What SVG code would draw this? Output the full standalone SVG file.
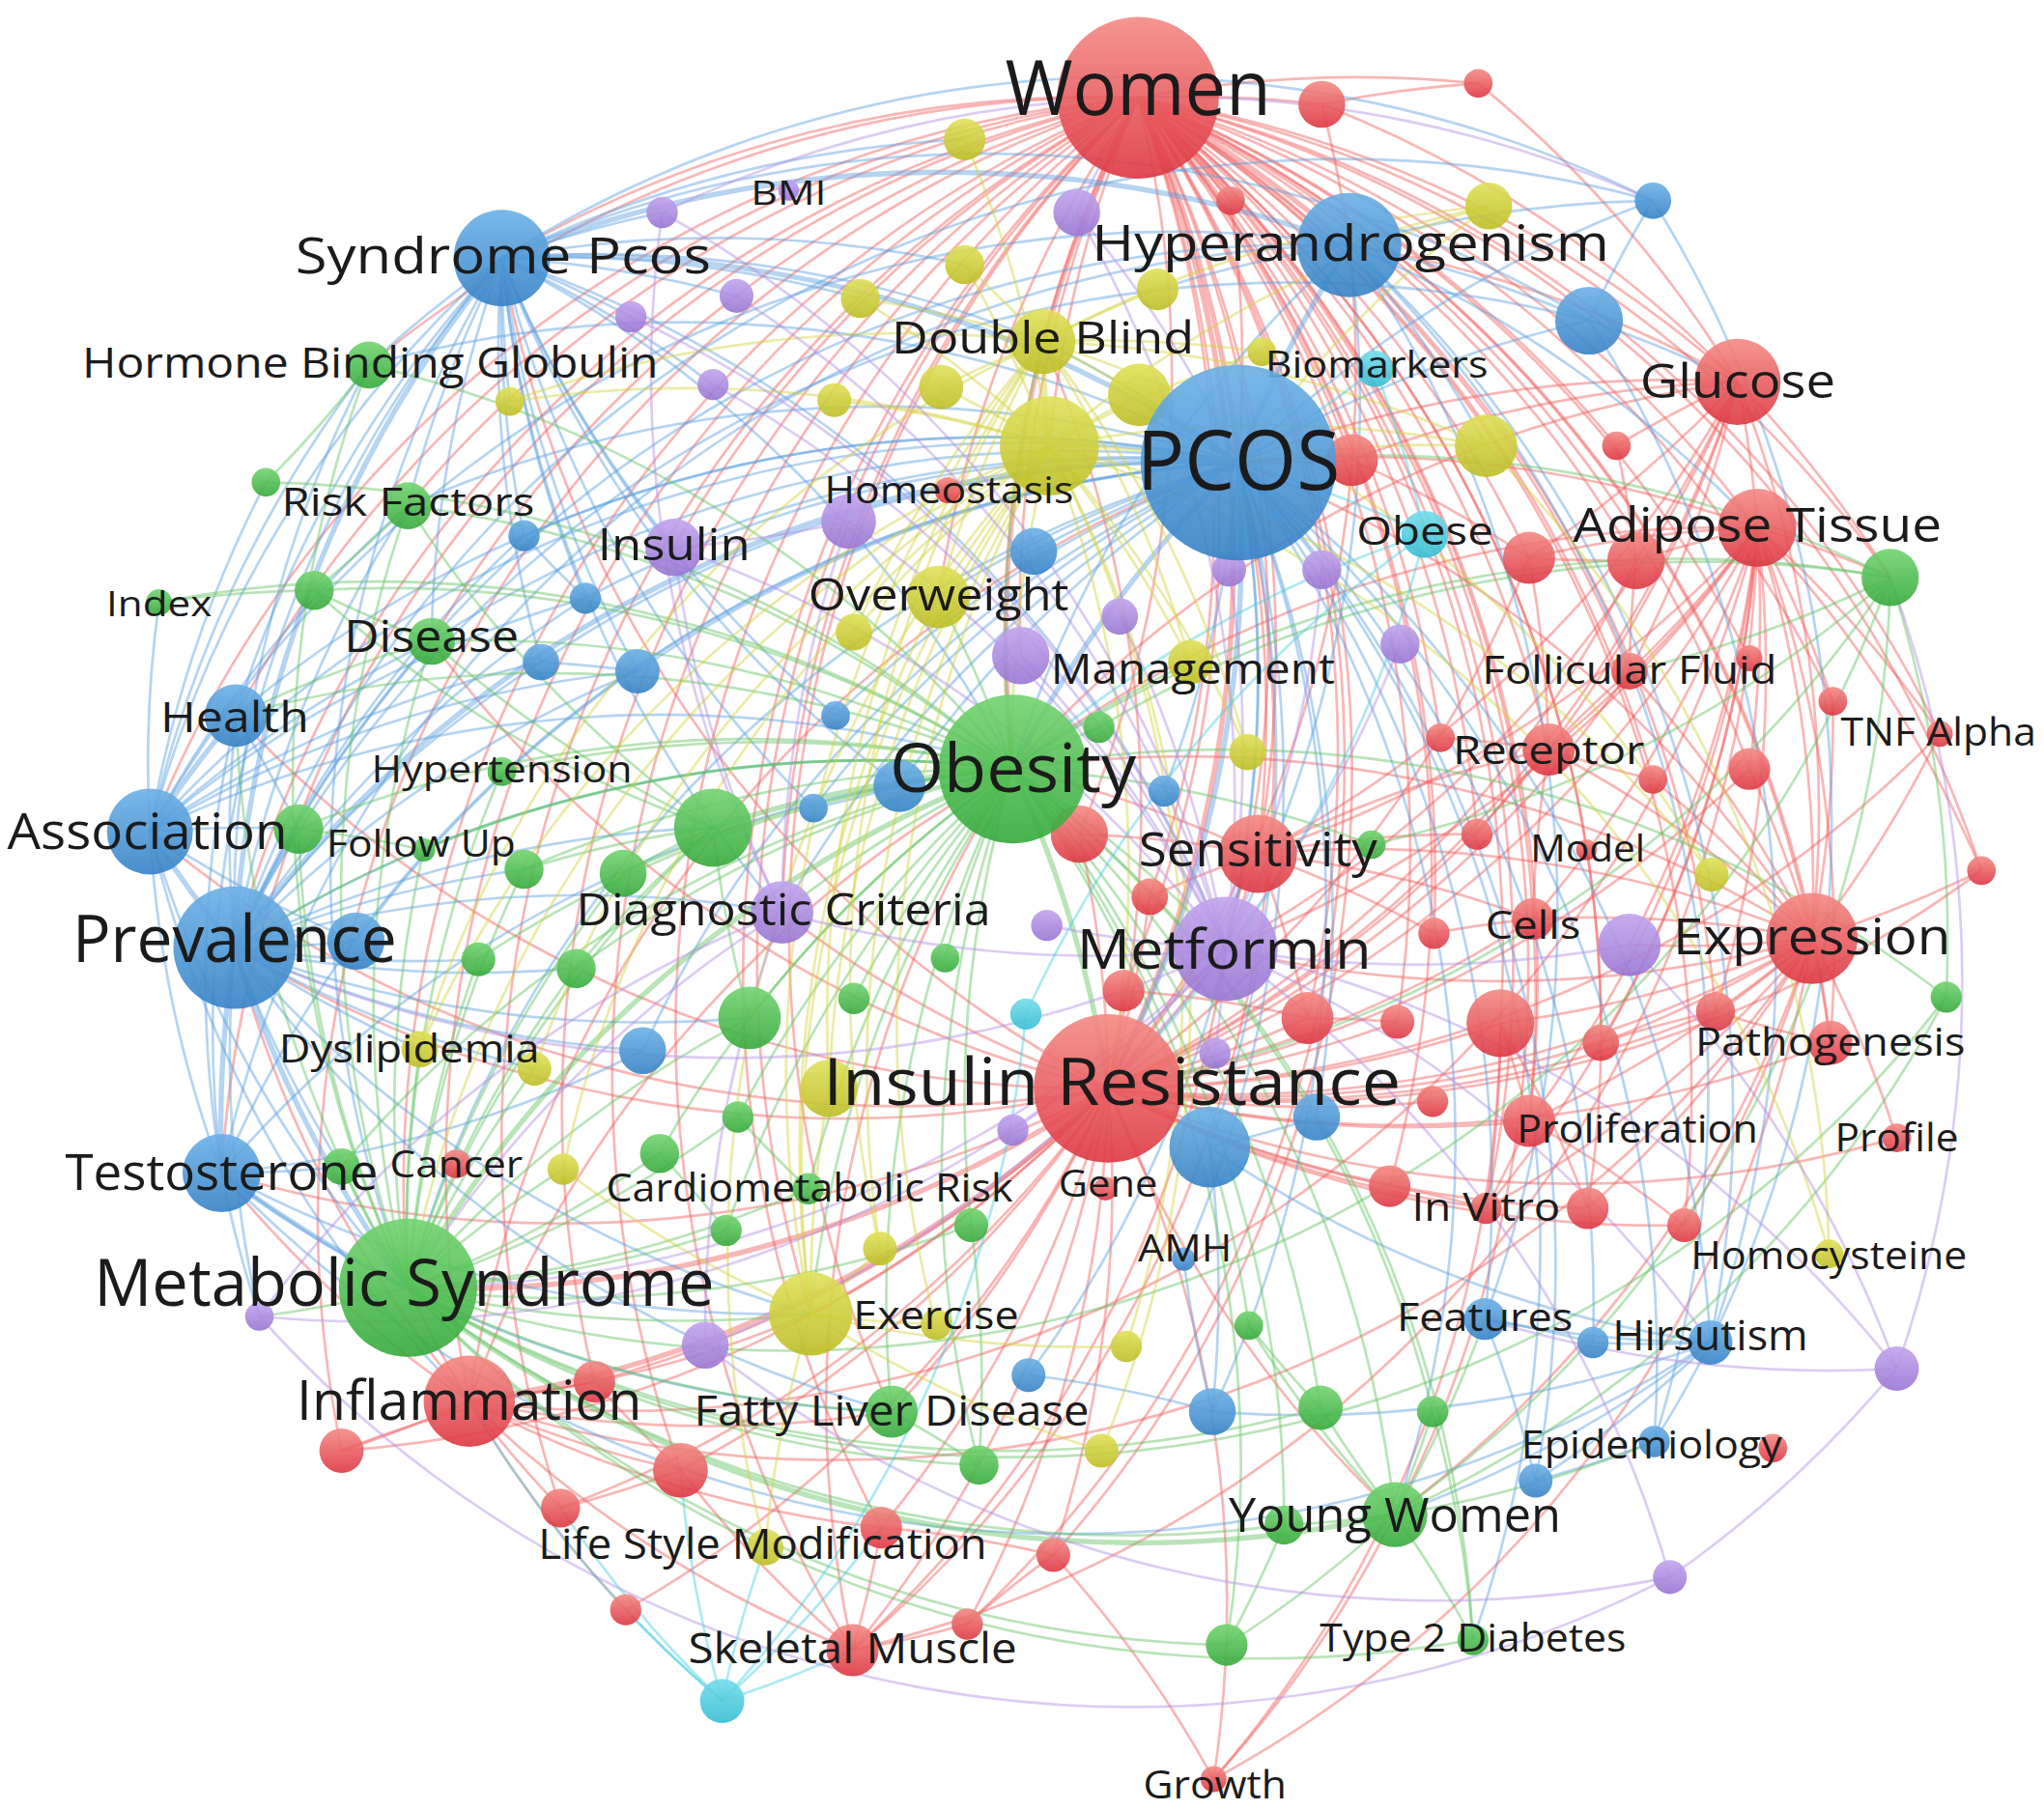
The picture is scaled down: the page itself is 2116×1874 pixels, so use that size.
<svg xmlns="http://www.w3.org/2000/svg" width="2116" height="1874" viewBox="0 0 2116 1874">
<defs>
<linearGradient id="gR" x1="0" y1="0" x2="0" y2="1"><stop offset="0" stop-color="#f48a84"/><stop offset="1" stop-color="#dd3642"/></linearGradient>
<linearGradient id="gB" x1="0" y1="0" x2="0" y2="1"><stop offset="0" stop-color="#6cb0e6"/><stop offset="1" stop-color="#3582c6"/></linearGradient>
<linearGradient id="gG" x1="0" y1="0" x2="0" y2="1"><stop offset="0" stop-color="#72d470"/><stop offset="1" stop-color="#35a93a"/></linearGradient>
<linearGradient id="gY" x1="0" y1="0" x2="0" y2="1"><stop offset="0" stop-color="#e0e05a"/><stop offset="1" stop-color="#bdbd24"/></linearGradient>
<linearGradient id="gP" x1="0" y1="0" x2="0" y2="1"><stop offset="0" stop-color="#c2a4ee"/><stop offset="1" stop-color="#9875d2"/></linearGradient>
<linearGradient id="gC" x1="0" y1="0" x2="0" y2="1"><stop offset="0" stop-color="#74dcea"/><stop offset="1" stop-color="#35bdd2"/></linearGradient>
</defs>
<style>
path{fill:none;stroke-opacity:.45;stroke-width:2}
.r{stroke:#f25e5e}.b{stroke:#5b9fdf}.g{stroke:#62c462}.y{stroke:#d3d33e}.p{stroke:#b28ee4}.c{stroke:#4ccfe0}
.t{stroke-width:4}
circle{fill-opacity:.9}
.nr{fill:url(#gR)}.nb{fill:url(#gB)}.ng{fill:url(#gG)}.ny{fill:url(#gY)}.np{fill:url(#gP)}.nc{fill:url(#gC)}
text{font-family:"Open Sans","Noto Sans","DejaVu Sans",sans-serif;fill:#1b1b1b;text-anchor:middle}
</style>
<rect width="2116" height="1874" fill="#ffffff"/>
<g transform="scale(1.3495)">
<g id="connectors">
<path class="r t" d="M873 75A900 900 0 0 1 950 355"/>
<path class="r t" d="M873 75A900 900 0 0 1 850 835"/>
<path class="r" d="M873 75A900 900 0 0 1 1333 293"/>
<path class="r" d="M873 75A900 900 0 0 1 1348 405"/>
<path class="r" d="M873 75A900 900 0 0 1 1390 720"/>
<path class="r t" d="M873 75A900 900 0 0 1 1035 188"/>
<path class="r" d="M873 75A900 900 0 0 1 940 728"/>
<path class="r" d="M873 75A900 900 0 0 1 965 655"/>
<path class="r" d="M873 75A900 900 0 0 1 1188 575"/>
<path class="r" d="M873 75A900 900 0 0 1 1250 515"/>
<path class="r" d="M873 75A900 900 0 0 1 1176 705"/>
<path class="r" d="M873 75A900 900 0 0 1 1151 785"/>
<path class="r" d="M873 75A900 900 0 0 1 1173 428"/>
<path class="r" d="M873 75A900 900 0 0 1 1255 430"/>
<path class="r" d="M873 75A900 900 0 0 1 1014 80"/>
<path class="r" d="M873 75A900 900 0 0 1 1134 64"/>
<path class="r" d="M873 75A900 900 0 0 1 1070 1162"/>
<path class="r" d="M873 75A900 900 0 0 1 1488 563"/>
<path class="r" d="M873 75A900 900 0 0 1 1404 800"/>
<path class="r" d="M873 75A900 900 0 0 1 1173 860"/>
<path class="r" d="M873 75A900 900 0 0 1 1140 927"/>
<path class="r" d="M873 75A900 900 0 0 1 1003 781"/>
<path class="r" d="M873 75A900 900 0 0 1 1037 353"/>
<path class="r" d="M873 75A900 900 0 0 1 1240 342"/>
<path class="r" d="M873 75A900 900 0 0 1 1342 590"/>
<path class="r" d="M873 75A900 900 0 0 1 1450 443"/>
<path class="r" d="M873 75A900 900 0 0 1 1520 668"/>
<path class="r" d="M873 75A900 900 0 0 1 1218 927"/>
<path class="r" d="M873 75A900 900 0 0 1 1292 940"/>
<path class="r" d="M873 75A900 900 0 0 1 862 760"/>
<path class="r" d="M873 75A900 900 0 0 1 828 640"/>
<path class="r" d="M873 75A900 900 0 0 1 882 688"/>
<path class="r" d="M873 75A900 900 0 0 1 1316 776"/>
<path class="r" d="M873 75A900 900 0 0 1 1228 800"/>
<path class="r" d="M873 75A900 900 0 0 1 1066 910"/>
<path class="r" d="M873 75A900 900 0 0 1 808 1193"/>
<path class="r" d="M873 75A900 900 0 0 1 742 1246"/>
<path class="r" d="M873 75A900 900 0 0 1 944 154"/>
<path class="r" d="M873 75A900 900 0 0 1 1105 566"/>
<path class="r" d="M873 75A900 900 0 0 1 1133 640"/>
<path class="r" d="M873 75A900 900 0 0 1 1268 598"/>
<path class="r" d="M873 75A900 900 0 0 1 1406 538"/>
<path class="r" d="M873 75A900 900 0 0 1 1342 505"/>
<path class="r" d="M873 75A900 900 0 0 1 1100 716"/>
<path class="r" d="M873 75A900 900 0 0 1 1072 784"/>
<path class="r t" d="M777 590A900 900 0 0 1 873 75"/>
<path class="r" d="M360 1075A900 900 0 0 1 873 75"/>
<path class="r" d="M313 988A900 900 0 0 1 873 75"/>
<path class="r" d="M180 727A900 900 0 0 1 873 75"/>
<path class="r" d="M385 198A900 900 0 0 1 873 75"/>
<path class="r" d="M654 1266A900 900 0 0 1 873 75"/>
<path class="r" d="M522 1128A900 900 0 0 1 873 75"/>
<path class="r" d="M622 1008A900 900 0 0 1 873 75"/>
<path class="r" d="M115 638A900 900 0 0 1 873 75"/>
<path class="r" d="M170 900A900 900 0 0 1 873 75"/>
<path class="r" d="M684 1083A900 900 0 0 1 873 75"/>
<path class="r" d="M181 549A900 900 0 0 1 873 75"/>
<path class="r" d="M331 492A900 900 0 0 1 873 75"/>
<path class="r" d="M313 388A900 900 0 0 1 873 75"/>
<path class="r" d="M800 262A900 900 0 0 1 873 75"/>
<path class="r" d="M805 342A900 900 0 0 1 873 75"/>
<path class="r" d="M720 458A900 900 0 0 1 873 75"/>
<path class="r" d="M783 503A900 900 0 0 1 873 75"/>
<path class="r" d="M600 700A900 900 0 0 1 873 75"/>
<path class="r" d="M517 420A900 900 0 0 1 873 75"/>
<path class="r" d="M283 280A900 900 0 0 1 873 75"/>
<path class="r" d="M456 1060A900 900 0 0 1 873 75"/>
<path class="r" d="M430 1157A900 900 0 0 1 873 75"/>
<path class="r" d="M262 1113A900 900 0 0 1 873 75"/>
<path class="r" d="M676 1172A900 900 0 0 1 873 75"/>
<path class="b t" d="M950 355A900 900 0 0 1 850 835"/>
<path class="g t" d="M777 590A900 900 0 0 1 850 835"/>
<path class="r" d="M1333 293A900 900 0 0 1 850 835"/>
<path class="r" d="M1348 405A900 900 0 0 1 850 835"/>
<path class="r" d="M1390 720A900 900 0 0 1 850 835"/>
<path class="r" d="M940 728A900 900 0 0 1 850 835"/>
<path class="r" d="M965 655A900 900 0 0 1 850 835"/>
<path class="r" d="M1176 705A900 900 0 0 1 850 835"/>
<path class="r" d="M1151 785A900 900 0 0 1 850 835"/>
<path class="r" d="M1173 860A900 900 0 0 1 850 835"/>
<path class="r" d="M1140 927A900 900 0 0 1 850 835"/>
<path class="r" d="M1188 575A900 900 0 0 1 850 835"/>
<path class="r" d="M1250 515A900 900 0 0 1 850 835"/>
<path class="r" d="M1070 1162A900 900 0 0 1 850 835"/>
<path class="r" d="M1003 781A900 900 0 0 1 850 835"/>
<path class="r" d="M1072 784A900 900 0 0 1 850 835"/>
<path class="r" d="M1228 800A900 900 0 0 1 850 835"/>
<path class="r" d="M1404 800A900 900 0 0 1 850 835"/>
<path class="r" d="M1455 873A900 900 0 0 1 850 835"/>
<path class="r" d="M1218 927A900 900 0 0 1 850 835"/>
<path class="r" d="M1292 940A900 900 0 0 1 850 835"/>
<path class="r" d="M1066 910A900 900 0 0 1 850 835"/>
<path class="r" d="M1099 845A900 900 0 0 1 850 835"/>
<path class="r" d="M1520 668A900 900 0 0 1 850 835"/>
<path class="r" d="M1488 563A900 900 0 0 1 850 835"/>
<path class="r" d="M1342 590A900 900 0 0 1 850 835"/>
<path class="r" d="M1316 776A900 900 0 0 1 850 835"/>
<path class="r" d="M800 262A900 900 0 0 1 850 835"/>
<path class="r" d="M1035 188A900 900 0 0 1 850 835"/>
<path class="r" d="M1255 430A900 900 0 0 1 850 835"/>
<path class="r" d="M1173 428A900 900 0 0 1 850 835"/>
<path class="r" d="M862 760A900 900 0 0 1 850 835"/>
<path class="r" d="M882 688A900 900 0 0 1 850 835"/>
<path class="r" d="M828 640A900 900 0 0 1 850 835"/>
<path class="r t" d="M850 835A900 900 0 0 1 313 988"/>
<path class="r" d="M850 835A900 900 0 0 1 180 727"/>
<path class="r t" d="M850 835A900 900 0 0 1 360 1075"/>
<path class="r" d="M850 835A900 900 0 0 1 654 1266"/>
<path class="r" d="M850 835A900 900 0 0 1 622 1008"/>
<path class="r" d="M850 835A900 900 0 0 1 684 1083"/>
<path class="r" d="M850 835A900 900 0 0 1 522 1128"/>
<path class="r" d="M850 835A900 900 0 0 1 430 1157"/>
<path class="r" d="M850 835A900 900 0 0 1 480 1235"/>
<path class="r" d="M850 835A900 900 0 0 1 742 1246"/>
<path class="r" d="M850 835A900 900 0 0 1 808 1193"/>
<path class="r" d="M850 835A900 900 0 0 1 676 1172"/>
<path class="r" d="M850 835A900 900 0 0 1 931 1365"/>
<path class="r" d="M850 835A900 900 0 0 1 170 900"/>
<path class="r" d="M850 835A900 900 0 0 1 115 638"/>
<path class="r" d="M850 835A900 900 0 0 1 181 549"/>
<path class="r" d="M850 835A900 900 0 0 1 331 492"/>
<path class="r" d="M850 835A900 900 0 0 1 600 700"/>
<path class="r" d="M850 835A900 900 0 0 1 385 198"/>
<path class="r" d="M850 835A900 900 0 0 1 456 1060"/>
<path class="r" d="M850 835A900 900 0 0 1 262 1113"/>
<path class="r" d="M360 1075A900 900 0 0 1 262 1113"/>
<path class="r" d="M360 1075A900 900 0 0 1 313 988"/>
<path class="r" d="M360 1075A900 900 0 0 1 777 590"/>
<path class="r" d="M360 1075A900 900 0 0 1 950 355"/>
<path class="r" d="M360 1075A900 900 0 0 1 180 727"/>
<path class="r" d="M360 1075A900 900 0 0 1 170 900"/>
<path class="r" d="M430 1157A900 900 0 0 1 360 1075"/>
<path class="r" d="M480 1235A900 900 0 0 1 360 1075"/>
<path class="r" d="M654 1266A900 900 0 0 1 360 1075"/>
<path class="r" d="M522 1128A900 900 0 0 1 360 1075"/>
<path class="r" d="M622 1008A900 900 0 0 1 360 1075"/>
<path class="r" d="M1348 405A900 900 0 0 1 360 1075"/>
<path class="r" d="M1390 720A900 900 0 0 1 360 1075"/>
<path class="r" d="M676 1172A900 900 0 0 1 360 1075"/>
<path class="r" d="M456 1060A900 900 0 0 1 360 1075"/>
<path class="r" d="M684 1083A900 900 0 0 1 360 1075"/>
<path class="r" d="M950 355A900 900 0 0 1 1333 293"/>
<path class="r" d="M1035 188A900 900 0 0 1 1333 293"/>
<path class="r" d="M1240 342A900 900 0 0 1 1333 293"/>
<path class="r" d="M1037 353A900 900 0 0 1 1333 293"/>
<path class="r" d="M1134 64A900 900 0 0 1 1333 293"/>
<path class="r" d="M1014 80A900 900 0 0 1 1333 293"/>
<path class="r" d="M777 590A900 900 0 0 1 1333 293"/>
<path class="r" d="M1333 293A900 900 0 0 1 1348 405"/>
<path class="r" d="M1333 293A900 900 0 0 1 1255 430"/>
<path class="r" d="M1333 293A900 900 0 0 1 1250 515"/>
<path class="r" d="M1333 293A900 900 0 0 1 1188 575"/>
<path class="r" d="M1333 293A900 900 0 0 1 1390 720"/>
<path class="r" d="M1333 293A900 900 0 0 1 1450 443"/>
<path class="r" d="M1333 293A900 900 0 0 1 1173 428"/>
<path class="r" d="M1333 293A900 900 0 0 1 965 655"/>
<path class="r" d="M1333 293A900 900 0 0 1 940 728"/>
<path class="r" d="M1348 405A900 900 0 0 1 1390 720"/>
<path class="r" d="M1348 405A900 900 0 0 1 1450 443"/>
<path class="r" d="M1348 405A900 900 0 0 1 1250 515"/>
<path class="r" d="M1348 405A900 900 0 0 1 1188 575"/>
<path class="r" d="M1348 405A900 900 0 0 1 1342 590"/>
<path class="r" d="M1348 405A900 900 0 0 1 1406 538"/>
<path class="r" d="M1348 405A900 900 0 0 1 1488 563"/>
<path class="r" d="M1348 405A900 900 0 0 1 1404 800"/>
<path class="r" d="M1348 405A900 900 0 0 1 1140 927"/>
<path class="r" d="M1348 405A900 900 0 0 1 1173 860"/>
<path class="r" d="M1348 405A900 900 0 0 1 1176 705"/>
<path class="r" d="M1348 405A900 900 0 0 1 1250 725"/>
<path class="r" d="M1348 405A900 900 0 0 1 1520 668"/>
<path class="r" d="M1348 405A900 900 0 0 1 1316 776"/>
<path class="r" d="M1348 405A900 900 0 0 1 1228 800"/>
<path class="r" d="M1348 405A900 900 0 0 1 965 655"/>
<path class="r" d="M1348 405A900 900 0 0 1 940 728"/>
<path class="r" d="M1348 405A900 900 0 0 1 654 1266"/>
<path class="r" d="M1173 428A900 900 0 0 1 1348 405"/>
<path class="r" d="M1255 430A900 900 0 0 1 1348 405"/>
<path class="r" d="M950 355A900 900 0 0 1 1348 405"/>
<path class="r" d="M777 590A900 900 0 0 1 1348 405"/>
<path class="r" d="M1390 720A900 900 0 0 1 1404 800"/>
<path class="r" d="M1390 720A900 900 0 0 1 1173 860"/>
<path class="r" d="M1390 720A900 900 0 0 1 1140 927"/>
<path class="r" d="M1390 720A900 900 0 0 1 1316 776"/>
<path class="r" d="M1390 720A900 900 0 0 1 1228 800"/>
<path class="r" d="M1390 720A900 900 0 0 1 1151 785"/>
<path class="r" d="M1390 720A900 900 0 0 1 1292 940"/>
<path class="r" d="M1390 720A900 900 0 0 1 1218 927"/>
<path class="r" d="M1390 720A900 900 0 0 1 1455 873"/>
<path class="r" d="M1390 720A900 900 0 0 1 940 728"/>
<path class="r" d="M1390 720A900 900 0 0 1 931 1365"/>
<path class="r" d="M1390 720A900 900 0 0 1 1070 1162"/>
<path class="r" d="M1390 720A900 900 0 0 1 1250 725"/>
<path class="r" d="M1176 705A900 900 0 0 1 1390 720"/>
<path class="r" d="M1188 575A900 900 0 0 1 1390 720"/>
<path class="r" d="M1250 515A900 900 0 0 1 1390 720"/>
<path class="r" d="M1520 668A900 900 0 0 1 1390 720"/>
<path class="r" d="M1342 590A900 900 0 0 1 1390 720"/>
<path class="r" d="M1268 598A900 900 0 0 1 1390 720"/>
<path class="r" d="M1488 563A900 900 0 0 1 1390 720"/>
<path class="r" d="M1406 538A900 900 0 0 1 1390 720"/>
<path class="r" d="M965 655A900 900 0 0 1 1390 720"/>
<path class="r" d="M777 590A900 900 0 0 1 1390 720"/>
<path class="r" d="M950 355A900 900 0 0 1 1390 720"/>
<path class="r" d="M654 1266A900 900 0 0 1 777 590"/>
<path class="r" d="M950 355A900 900 0 0 1 654 1266"/>
<path class="r" d="M940 728A900 900 0 0 1 654 1266"/>
<path class="r" d="M742 1246A900 900 0 0 1 654 1266"/>
<path class="r" d="M676 1172A900 900 0 0 1 654 1266"/>
<path class="r" d="M654 1266A900 900 0 0 1 522 1128"/>
<path class="r" d="M1151 785A900 900 0 0 1 931 1365"/>
<path class="r" d="M1070 1162A900 900 0 0 1 931 1365"/>
<path class="r" d="M808 1193A900 900 0 0 1 931 1365"/>
<path class="r" d="M1176 705A900 900 0 0 1 1188 575"/>
<path class="r" d="M1176 705A900 900 0 0 1 1173 860"/>
<path class="r" d="M1188 575A900 900 0 0 1 1250 515"/>
<path class="r" d="M1250 515A900 900 0 0 1 1255 430"/>
<path class="r" d="M1173 428A900 900 0 0 1 1188 575"/>
<path class="r" d="M1151 785A900 900 0 0 1 1140 927"/>
<path class="r" d="M1151 785A900 900 0 0 1 1173 860"/>
<path class="r" d="M1228 800A900 900 0 0 1 1316 776"/>
<path class="r" d="M1404 800A900 900 0 0 1 1316 776"/>
<path class="r" d="M1173 860A900 900 0 0 1 1140 927"/>
<path class="r" d="M1003 781A900 900 0 0 1 1072 784"/>
<path class="r" d="M1100 716A900 900 0 0 1 1176 705"/>
<path class="r" d="M1133 640A900 900 0 0 1 1188 575"/>
<path class="r" d="M1105 566A900 900 0 0 1 1188 575"/>
<path class="r" d="M1268 598A900 900 0 0 1 1188 575"/>
<path class="r" d="M965 655A900 900 0 0 1 1003 781"/>
<path class="r" d="M965 655A900 900 0 0 1 1133 640"/>
<path class="r" d="M965 655A900 900 0 0 1 1100 716"/>
<path class="r" d="M965 655A900 900 0 0 1 1176 705"/>
<path class="r" d="M965 655A900 900 0 0 1 1188 575"/>
<path class="r" d="M965 655A900 900 0 0 1 940 728"/>
<path class="r" d="M950 355A900 900 0 0 1 965 655"/>
<path class="r" d="M777 590A900 900 0 0 1 965 655"/>
<path class="r" d="M1255 430A900 900 0 0 1 1173 428"/>
<path class="r" d="M1037 353A900 900 0 0 1 1173 428"/>
<path class="r" d="M1240 342A900 900 0 0 1 1255 430"/>
<path class="r" d="M1151 785A900 900 0 0 1 1218 927"/>
<path class="r" d="M1173 860A900 900 0 0 1 1292 940"/>
<path class="r" d="M1066 910A900 900 0 0 1 1140 927"/>
<path class="r" d="M862 760A900 900 0 0 1 1003 781"/>
<path class="r" d="M828 640A900 900 0 0 1 965 655"/>
<path class="r" d="M882 688A900 900 0 0 1 965 655"/>
<path class="r" d="M522 1128A900 900 0 0 1 456 1060"/>
<path class="r" d="M522 1128A900 900 0 0 1 430 1157"/>
<path class="r" d="M262 1113A900 900 0 0 1 456 1060"/>
<path class="r" d="M676 1172A900 900 0 0 1 808 1193"/>
<path class="r" d="M742 1246A900 900 0 0 1 808 1193"/>
<path class="r" d="M1014 80A900 900 0 0 1 1134 64"/>
<path class="r" d="M1014 80A900 900 0 0 1 1035 188"/>
<path class="r" d="M944 154A900 900 0 0 1 950 355"/>
<path class="r" d="M1037 353A900 900 0 0 1 950 355"/>
<path class="b t" d="M385 198A900 900 0 0 1 950 355"/>
<path class="b t" d="M180 727A900 900 0 0 1 950 355"/>
<path class="b" d="M115 638A900 900 0 0 1 950 355"/>
<path class="b" d="M170 900A900 900 0 0 1 950 355"/>
<path class="b" d="M181 549A900 900 0 0 1 950 355"/>
<path class="b" d="M493 806A900 900 0 0 1 950 355"/>
<path class="b" d="M489 515A900 900 0 0 1 950 355"/>
<path class="b" d="M415 508A900 900 0 0 1 950 355"/>
<path class="b" d="M449 459A900 900 0 0 1 950 355"/>
<path class="b" d="M402 411A900 900 0 0 1 950 355"/>
<path class="b" d="M690 603A900 900 0 0 1 950 355"/>
<path class="b" d="M624 620A900 900 0 0 1 950 355"/>
<path class="b" d="M641 549A900 900 0 0 1 950 355"/>
<path class="b" d="M793 423A900 900 0 0 1 950 355"/>
<path class="b" d="M273 722A900 900 0 0 1 950 355"/>
<path class="b" d="M313 988A900 900 0 0 1 950 355"/>
<path class="b t" d="M777 590A900 900 0 0 1 950 355"/>
<path class="b" d="M600 700A900 900 0 0 1 950 355"/>
<path class="b" d="M800 262A900 900 0 0 1 950 355"/>
<path class="b" d="M720 458A900 900 0 0 1 950 355"/>
<path class="b" d="M517 420A900 900 0 0 1 950 355"/>
<path class="b" d="M331 492A900 900 0 0 1 950 355"/>
<path class="b" d="M313 388A900 900 0 0 1 950 355"/>
<path class="b" d="M283 280A900 900 0 0 1 950 355"/>
<path class="b t" d="M950 355A900 900 0 0 1 1035 188"/>
<path class="b" d="M950 355A900 900 0 0 1 1219 246"/>
<path class="b" d="M950 355A900 900 0 0 1 1268 154"/>
<path class="b" d="M950 355A900 900 0 0 1 1312 1030"/>
<path class="b" d="M950 355A900 900 0 0 1 1139 1012"/>
<path class="b" d="M950 355A900 900 0 0 1 1269 1106"/>
<path class="b" d="M950 355A900 900 0 0 1 1178 1136"/>
<path class="b" d="M950 355A900 900 0 0 1 928 880"/>
<path class="b" d="M950 355A900 900 0 0 1 1010 857"/>
<path class="b" d="M950 355A900 900 0 0 1 930 1083"/>
<path class="b" d="M950 355A900 900 0 0 1 789 1055"/>
<path class="b" d="M950 355A900 900 0 0 1 893 607"/>
<path class="b" d="M950 355A900 900 0 0 1 1070 1162"/>
<path class="b" d="M950 355A900 900 0 0 1 1130 1258"/>
<path class="b" d="M950 355A900 900 0 0 1 940 728"/>
<path class="b" d="M950 355A900 900 0 0 1 1222 1030"/>
<path class="b" d="M950 355A900 900 0 0 1 908 966"/>
<path class="y" d="M950 355A900 900 0 0 1 1142 158"/>
<path class="y" d="M950 355A900 900 0 0 1 1140 342"/>
<path class="b t" d="M180 727A900 900 0 0 1 115 638"/>
<path class="b" d="M180 727A900 900 0 0 1 181 549"/>
<path class="b t" d="M180 727A900 900 0 0 1 385 198"/>
<path class="b" d="M180 727A900 900 0 0 1 777 590"/>
<path class="b" d="M180 727A900 900 0 0 1 331 492"/>
<path class="b" d="M180 727A900 900 0 0 1 313 388"/>
<path class="b" d="M180 727A900 900 0 0 1 283 280"/>
<path class="b" d="M180 727A900 900 0 0 1 600 700"/>
<path class="b" d="M180 727A900 900 0 0 1 402 667"/>
<path class="b" d="M180 727A900 900 0 0 1 415 508"/>
<path class="b" d="M180 727A900 900 0 0 1 489 515"/>
<path class="b" d="M180 727A900 900 0 0 1 449 459"/>
<path class="b" d="M180 727A900 900 0 0 1 402 411"/>
<path class="b" d="M180 727A900 900 0 0 1 229 636"/>
<path class="b" d="M180 727A900 900 0 0 1 547 635"/>
<path class="b" d="M180 727A900 900 0 0 1 1035 188"/>
<path class="b" d="M180 727A900 900 0 0 1 1219 246"/>
<path class="b" d="M180 727A900 900 0 0 1 1268 154"/>
<path class="b t" d="M170 900A900 900 0 0 1 180 727"/>
<path class="b" d="M273 722A900 900 0 0 1 180 727"/>
<path class="b t" d="M313 988A900 900 0 0 1 180 727"/>
<path class="b" d="M367 736A900 900 0 0 1 180 727"/>
<path class="b" d="M442 743A900 900 0 0 1 180 727"/>
<path class="b" d="M493 806A900 900 0 0 1 180 727"/>
<path class="b" d="M262 895A900 900 0 0 1 180 727"/>
<path class="b" d="M622 1008A900 900 0 0 1 180 727"/>
<path class="b" d="M575 781A900 900 0 0 1 180 727"/>
<path class="b" d="M684 1083A900 900 0 0 1 180 727"/>
<path class="b" d="M199 1010A900 900 0 0 1 180 727"/>
<path class="b" d="M322 805A900 900 0 0 1 180 727"/>
<path class="b" d="M410 820A900 900 0 0 1 180 727"/>
<path class="b t" d="M385 198A900 900 0 0 1 1035 188"/>
<path class="b" d="M385 198A900 900 0 0 1 508 163"/>
<path class="b" d="M385 198A900 900 0 0 1 484 243"/>
<path class="b" d="M385 198A900 900 0 0 1 565 227"/>
<path class="b" d="M385 198A900 900 0 0 1 547 295"/>
<path class="b" d="M385 198A900 900 0 0 1 800 262"/>
<path class="b" d="M385 198A900 900 0 0 1 1268 154"/>
<path class="b" d="M385 198A900 900 0 0 1 1219 246"/>
<path class="b" d="M385 198A900 900 0 0 1 777 590"/>
<path class="b" d="M385 198A900 900 0 0 1 660 229"/>
<path class="b" d="M385 198A900 900 0 0 1 740 203"/>
<path class="b" d="M385 198A900 900 0 0 1 740 107"/>
<path class="b" d="M385 198A900 900 0 0 1 940 728"/>
<path class="b" d="M115 638A900 900 0 0 1 385 198"/>
<path class="b" d="M181 549A900 900 0 0 1 385 198"/>
<path class="b" d="M170 900A900 900 0 0 1 385 198"/>
<path class="b" d="M517 420A900 900 0 0 1 385 198"/>
<path class="b" d="M391 308A900 900 0 0 1 385 198"/>
<path class="b" d="M283 280A900 900 0 0 1 385 198"/>
<path class="b" d="M313 388A900 900 0 0 1 385 198"/>
<path class="b" d="M331 492A900 900 0 0 1 385 198"/>
<path class="b" d="M402 411A900 900 0 0 1 385 198"/>
<path class="b" d="M449 459A900 900 0 0 1 385 198"/>
<path class="b" d="M415 508A900 900 0 0 1 385 198"/>
<path class="b" d="M489 515A900 900 0 0 1 385 198"/>
<path class="b" d="M313 988A900 900 0 0 1 385 198"/>
<path class="b" d="M641 549A900 900 0 0 1 385 198"/>
<path class="b" d="M690 603A900 900 0 0 1 385 198"/>
<path class="b" d="M624 620A900 900 0 0 1 385 198"/>
<path class="b" d="M600 700A900 900 0 0 1 385 198"/>
<path class="b" d="M1035 188A900 900 0 0 1 1219 246"/>
<path class="b" d="M1035 188A900 900 0 0 1 1268 154"/>
<path class="b" d="M1035 188A900 900 0 0 1 1312 1030"/>
<path class="y" d="M1035 188A900 900 0 0 1 1142 158"/>
<path class="b" d="M1035 188A900 900 0 0 1 1140 342"/>
<path class="b" d="M1035 188A900 900 0 0 1 1348 405"/>
<path class="b" d="M1035 188A900 900 0 0 1 1139 1012"/>
<path class="b" d="M1035 188A900 900 0 0 1 1269 1106"/>
<path class="b" d="M1035 188A900 900 0 0 1 940 728"/>
<path class="b" d="M777 590A900 900 0 0 1 1035 188"/>
<path class="b" d="M888 222A900 900 0 0 1 1035 188"/>
<path class="b" d="M170 900A900 900 0 0 1 1035 188"/>
<path class="b" d="M115 638A900 900 0 0 1 1035 188"/>
<path class="b t" d="M115 638A900 900 0 0 1 181 549"/>
<path class="b" d="M115 638A900 900 0 0 1 331 492"/>
<path class="b" d="M115 638A900 900 0 0 1 313 388"/>
<path class="b" d="M115 638A900 900 0 0 1 229 636"/>
<path class="b" d="M115 638A900 900 0 0 1 415 508"/>
<path class="b" d="M115 638A900 900 0 0 1 489 515"/>
<path class="b" d="M115 638A900 900 0 0 1 449 459"/>
<path class="b" d="M115 638A900 900 0 0 1 777 590"/>
<path class="b" d="M115 638A900 900 0 0 1 122 462"/>
<path class="b" d="M115 638A900 900 0 0 1 283 280"/>
<path class="b" d="M115 638A900 900 0 0 1 204 370"/>
<path class="b" d="M170 900A900 900 0 0 1 115 638"/>
<path class="b" d="M313 988A900 900 0 0 1 115 638"/>
<path class="b" d="M273 722A900 900 0 0 1 115 638"/>
<path class="b" d="M360 1075A900 900 0 0 1 115 638"/>
<path class="b t" d="M313 988A900 900 0 0 1 170 900"/>
<path class="b" d="M262 895A900 900 0 0 1 170 900"/>
<path class="b" d="M199 1010A900 900 0 0 1 170 900"/>
<path class="b" d="M493 806A900 900 0 0 1 170 900"/>
<path class="b" d="M684 1083A900 900 0 0 1 170 900"/>
<path class="b" d="M622 1008A900 900 0 0 1 170 900"/>
<path class="b" d="M1312 1030A900 900 0 0 1 170 900"/>
<path class="b" d="M170 900A900 900 0 0 1 777 590"/>
<path class="b" d="M170 900A900 900 0 0 1 181 549"/>
<path class="b" d="M1312 1030A900 900 0 0 1 1222 1030"/>
<path class="b" d="M1312 1030A900 900 0 0 1 1139 1012"/>
<path class="b" d="M1312 1030A900 900 0 0 1 1269 1106"/>
<path class="b" d="M1312 1030A900 900 0 0 1 1178 1136"/>
<path class="b" d="M1312 1030A900 900 0 0 1 928 880"/>
<path class="b" d="M1312 1030A900 900 0 0 1 930 1083"/>
<path class="b" d="M1312 1030A900 900 0 0 1 1070 1162"/>
<path class="b" d="M1219 246A900 900 0 0 1 1312 1030"/>
<path class="b" d="M1268 154A900 900 0 0 1 1312 1030"/>
<path class="p" d="M940 728A900 900 0 0 1 1312 1030"/>
<path class="b" d="M1139 1012A900 900 0 0 1 1222 1030"/>
<path class="b" d="M1139 1012A900 900 0 0 1 1178 1136"/>
<path class="b" d="M1269 1106A900 900 0 0 1 1178 1136"/>
<path class="b" d="M1010 857A900 900 0 0 1 928 880"/>
<path class="b" d="M928 880A900 900 0 0 1 930 1083"/>
<path class="b" d="M789 1055A900 900 0 0 1 930 1083"/>
<path class="b" d="M1219 246A900 900 0 0 1 1268 154"/>
<path class="b" d="M1219 246A900 900 0 0 1 1333 293"/>
<path class="b" d="M690 603A900 900 0 0 1 624 620"/>
<path class="b" d="M415 508A900 900 0 0 1 489 515"/>
<path class="b" d="M449 459A900 900 0 0 1 402 411"/>
<path class="b" d="M181 549A900 900 0 0 1 229 636"/>
<path class="b" d="M930 1083A900 900 0 0 1 908 966"/>
<path class="g t" d="M313 988A900 900 0 0 1 777 590"/>
<path class="g" d="M180 727A900 900 0 0 1 777 590"/>
<path class="g" d="M181 549A900 900 0 0 1 777 590"/>
<path class="g" d="M331 492A900 900 0 0 1 777 590"/>
<path class="g" d="M313 388A900 900 0 0 1 777 590"/>
<path class="g" d="M283 280A900 900 0 0 1 777 590"/>
<path class="g" d="M241 453A900 900 0 0 1 777 590"/>
<path class="g" d="M204 370A900 900 0 0 1 777 590"/>
<path class="g" d="M122 462A900 900 0 0 1 777 590"/>
<path class="g" d="M229 636A900 900 0 0 1 777 590"/>
<path class="g" d="M402 667A900 900 0 0 1 777 590"/>
<path class="g" d="M478 670A900 900 0 0 1 777 590"/>
<path class="g t" d="M547 635A900 900 0 0 1 777 590"/>
<path class="g" d="M367 736A900 900 0 0 1 777 590"/>
<path class="g" d="M442 743A900 900 0 0 1 777 590"/>
<path class="g" d="M575 781A900 900 0 0 1 777 590"/>
<path class="g" d="M566 857A900 900 0 0 1 777 590"/>
<path class="g" d="M506 885A900 900 0 0 1 777 590"/>
<path class="g" d="M557 944A900 900 0 0 1 777 590"/>
<path class="g" d="M745 940A900 900 0 0 1 777 590"/>
<path class="g" d="M655 766A900 900 0 0 1 777 590"/>
<path class="g" d="M725 735A900 900 0 0 1 777 590"/>
<path class="g" d="M684 1083A900 900 0 0 1 777 590"/>
<path class="g" d="M751 1124A900 900 0 0 1 777 590"/>
<path class="g" d="M720 458A900 900 0 0 1 777 590"/>
<path class="g" d="M600 700A900 900 0 0 1 777 590"/>
<path class="g" d="M622 1008A900 900 0 0 1 777 590"/>
<path class="g" d="M262 895A900 900 0 0 1 777 590"/>
<path class="g" d="M620 912A900 900 0 0 1 777 590"/>
<path class="g" d="M385 592A900 900 0 0 1 777 590"/>
<path class="g" d="M325 652A900 900 0 0 1 777 590"/>
<path class="g" d="M777 590A900 900 0 0 1 843 558"/>
<path class="g" d="M777 590A900 900 0 0 1 1052 648"/>
<path class="g" d="M777 590A900 900 0 0 1 1070 1162"/>
<path class="g" d="M777 590A900 900 0 0 1 1013 1080"/>
<path class="g" d="M777 590A900 900 0 0 1 1099 1083"/>
<path class="g" d="M777 590A900 900 0 0 1 985 1170"/>
<path class="g" d="M777 590A900 900 0 0 1 941 1262"/>
<path class="g" d="M777 590A900 900 0 0 1 1130 1258"/>
<path class="g" d="M777 590A900 900 0 0 1 958 1017"/>
<path class="g" d="M777 590A900 900 0 0 1 1450 443"/>
<path class="g" d="M777 590A900 900 0 0 1 1493 765"/>
<path class="g" d="M777 590A900 900 0 0 1 800 262"/>
<path class="g" d="M777 590A900 900 0 0 1 913 508"/>
<path class="g" d="M777 590A900 900 0 0 1 940 728"/>
<path class="g" d="M313 988A900 900 0 0 1 181 549"/>
<path class="g" d="M313 988A900 900 0 0 1 331 492"/>
<path class="g" d="M313 988A900 900 0 0 1 313 388"/>
<path class="g" d="M313 988A900 900 0 0 1 283 280"/>
<path class="g" d="M313 988A900 900 0 0 1 229 636"/>
<path class="g" d="M313 988A900 900 0 0 1 262 895"/>
<path class="g" d="M313 988A900 900 0 0 1 402 667"/>
<path class="g" d="M313 988A900 900 0 0 1 478 670"/>
<path class="g" d="M313 988A900 900 0 0 1 547 635"/>
<path class="g" d="M313 988A900 900 0 0 1 367 736"/>
<path class="g" d="M313 988A900 900 0 0 1 442 743"/>
<path class="g" d="M313 988A900 900 0 0 1 575 781"/>
<path class="g" d="M313 988A900 900 0 0 1 199 1010"/>
<path class="g" d="M313 988A900 900 0 0 1 322 805"/>
<path class="g" d="M313 988A900 900 0 0 1 410 820"/>
<path class="g" d="M313 988A900 900 0 0 1 432 897"/>
<path class="g" d="M313 988A900 900 0 0 1 385 592"/>
<path class="g" d="M313 988A900 900 0 0 1 325 652"/>
<path class="g" d="M566 857A900 900 0 0 1 313 988"/>
<path class="g" d="M506 885A900 900 0 0 1 313 988"/>
<path class="g" d="M557 944A900 900 0 0 1 313 988"/>
<path class="g" d="M745 940A900 900 0 0 1 313 988"/>
<path class="g" d="M684 1083A900 900 0 0 1 313 988"/>
<path class="g" d="M751 1124A900 900 0 0 1 313 988"/>
<path class="g t" d="M1070 1162A900 900 0 0 1 313 988"/>
<path class="g" d="M985 1170A900 900 0 0 1 313 988"/>
<path class="g" d="M941 1262A900 900 0 0 1 313 988"/>
<path class="g" d="M1130 1258A900 900 0 0 1 313 988"/>
<path class="g" d="M1013 1080A900 900 0 0 1 313 988"/>
<path class="g" d="M622 1008A900 900 0 0 1 313 988"/>
<path class="g" d="M1450 443A900 900 0 0 1 313 988"/>
<path class="g" d="M1493 765A900 900 0 0 1 313 988"/>
<path class="g" d="M620 912A900 900 0 0 1 313 988"/>
<path class="p" d="M940 728A900 900 0 0 1 313 988"/>
<path class="g" d="M1070 1162A900 900 0 0 1 985 1170"/>
<path class="g" d="M1070 1162A900 900 0 0 1 941 1262"/>
<path class="g" d="M1070 1162A900 900 0 0 1 1130 1258"/>
<path class="g" d="M1070 1162A900 900 0 0 1 1013 1080"/>
<path class="g" d="M1070 1162A900 900 0 0 1 958 1017"/>
<path class="g" d="M1099 1083A900 900 0 0 1 1070 1162"/>
<path class="g" d="M1450 443A900 900 0 0 1 1070 1162"/>
<path class="g" d="M1139 1012A900 900 0 0 1 1070 1162"/>
<path class="g" d="M1269 1106A900 900 0 0 1 1070 1162"/>
<path class="g" d="M1493 765A900 900 0 0 1 1070 1162"/>
<path class="g" d="M1450 443A900 900 0 0 1 1493 765"/>
<path class="g" d="M1450 443A900 900 0 0 1 1052 648"/>
<path class="g" d="M843 558A900 900 0 0 1 1450 443"/>
<path class="g" d="M1450 443A900 900 0 0 1 1250 515"/>
<path class="g" d="M1450 443A900 900 0 0 1 850 835"/>
<path class="g" d="M950 355A900 900 0 0 1 1450 443"/>
<path class="g" d="M478 670A900 900 0 0 1 547 635"/>
<path class="g" d="M402 667A900 900 0 0 1 547 635"/>
<path class="g" d="M575 781A900 900 0 0 1 547 635"/>
<path class="g" d="M442 743A900 900 0 0 1 547 635"/>
<path class="g" d="M547 635A900 900 0 0 1 331 492"/>
<path class="g" d="M547 635A900 900 0 0 1 313 388"/>
<path class="g" d="M547 635A900 900 0 0 1 241 453"/>
<path class="g" d="M620 912A900 900 0 0 1 566 857"/>
<path class="g" d="M506 885A900 900 0 0 1 557 944"/>
<path class="g" d="M745 940A900 900 0 0 1 751 1124"/>
<path class="g" d="M684 1083A900 900 0 0 1 751 1124"/>
<path class="g" d="M1013 1080A900 900 0 0 1 958 1017"/>
<path class="g" d="M985 1170A900 900 0 0 1 941 1262"/>
<path class="g" d="M1099 1083A900 900 0 0 1 1130 1258"/>
<path class="g" d="M283 280A900 900 0 0 1 204 370"/>
<path class="g" d="M313 388A900 900 0 0 1 241 453"/>
<path class="g" d="M331 492A900 900 0 0 1 241 453"/>
<path class="g" d="M122 462A900 900 0 0 1 241 453"/>
<path class="g" d="M181 549A900 900 0 0 1 331 492"/>
<path class="g" d="M229 636A900 900 0 0 1 325 652"/>
<path class="y t" d="M805 342A900 900 0 0 1 800 262"/>
<path class="y" d="M805 342A900 900 0 0 1 874 303"/>
<path class="y" d="M805 342A900 900 0 0 1 913 508"/>
<path class="y" d="M805 342A900 900 0 0 1 957 577"/>
<path class="y" d="M805 342A900 900 0 0 1 864 1033"/>
<path class="y" d="M805 342A900 900 0 0 1 845 1113"/>
<path class="y" d="M805 342A900 900 0 0 1 968 270"/>
<path class="y" d="M805 342A900 900 0 0 1 1140 342"/>
<path class="y" d="M805 342A900 900 0 0 1 1142 158"/>
<path class="y" d="M805 342A900 900 0 0 1 1313 671"/>
<path class="y" d="M805 342A900 900 0 0 1 1403 962"/>
<path class="y" d="M805 342A900 900 0 0 1 950 355"/>
<path class="y" d="M805 342A900 900 0 0 1 850 835"/>
<path class="y" d="M722 297A900 900 0 0 1 805 342"/>
<path class="y" d="M640 307A900 900 0 0 1 805 342"/>
<path class="y" d="M660 229A900 900 0 0 1 805 342"/>
<path class="y" d="M740 203A900 900 0 0 1 805 342"/>
<path class="y" d="M740 107A900 900 0 0 1 805 342"/>
<path class="y" d="M720 458A900 900 0 0 1 805 342"/>
<path class="y" d="M655 485A900 900 0 0 1 805 342"/>
<path class="y" d="M636 835A900 900 0 0 1 805 342"/>
<path class="y" d="M622 1008A900 900 0 0 1 805 342"/>
<path class="y" d="M675 958A900 900 0 0 1 805 342"/>
<path class="y" d="M587 1187A900 900 0 0 1 805 342"/>
<path class="y" d="M322 805A900 900 0 0 1 805 342"/>
<path class="y" d="M410 820A900 900 0 0 1 805 342"/>
<path class="y" d="M432 897A900 900 0 0 1 805 342"/>
<path class="y" d="M391 308A900 900 0 0 1 805 342"/>
<path class="y" d="M777 590A900 900 0 0 1 805 342"/>
<path class="y" d="M313 988A900 900 0 0 1 805 342"/>
<path class="y" d="M622 1008A900 900 0 0 1 636 835"/>
<path class="y" d="M675 958A900 900 0 0 1 622 1008"/>
<path class="y" d="M587 1187A900 900 0 0 1 622 1008"/>
<path class="y" d="M845 1113A900 900 0 0 1 622 1008"/>
<path class="y" d="M864 1033A900 900 0 0 1 622 1008"/>
<path class="y" d="M622 1008A900 900 0 0 1 720 458"/>
<path class="y" d="M622 1008A900 900 0 0 1 800 262"/>
<path class="y" d="M622 1008A900 900 0 0 1 432 897"/>
<path class="y" d="M718 1016A900 900 0 0 1 622 1008"/>
<path class="y" d="M718 1016A900 900 0 0 1 805 342"/>
<path class="y" d="M800 262A900 900 0 0 1 874 303"/>
<path class="y" d="M722 297A900 900 0 0 1 800 262"/>
<path class="y" d="M740 203A900 900 0 0 1 800 262"/>
<path class="y" d="M660 229A900 900 0 0 1 800 262"/>
<path class="y" d="M800 262A900 900 0 0 1 888 222"/>
<path class="y" d="M800 262A900 900 0 0 1 968 270"/>
<path class="y" d="M800 262A900 900 0 0 1 1140 342"/>
<path class="y" d="M800 262A900 900 0 0 1 1142 158"/>
<path class="y" d="M720 458A900 900 0 0 1 800 262"/>
<path class="y" d="M655 485A900 900 0 0 1 800 262"/>
<path class="y" d="M800 262A900 900 0 0 1 913 508"/>
<path class="y" d="M800 262A900 900 0 0 1 957 577"/>
<path class="y" d="M636 835A900 900 0 0 1 800 262"/>
<path class="y" d="M675 958A900 900 0 0 1 800 262"/>
<path class="y" d="M391 308A900 900 0 0 1 800 262"/>
<path class="y" d="M800 262A900 900 0 0 1 1313 671"/>
<path class="y" d="M322 805A900 900 0 0 1 800 262"/>
<path class="y" d="M1140 342A900 900 0 0 1 1403 962"/>
<path class="p" d="M940 728A900 900 0 0 1 600 700"/>
<path class="p" d="M940 728A900 900 0 0 1 803 710"/>
<path class="p" d="M940 728A900 900 0 0 1 932 808"/>
<path class="p" d="M940 728A900 900 0 0 1 777 867"/>
<path class="p" d="M940 728A900 900 0 0 1 541 1032"/>
<path class="p" d="M940 728A900 900 0 0 1 199 1010"/>
<path class="p" d="M940 728A900 900 0 0 1 1455 1050"/>
<path class="p" d="M940 728A900 900 0 0 1 1281 1210"/>
<path class="p" d="M940 728A900 900 0 0 1 180 727"/>
<path class="p" d="M1250 725A900 900 0 0 1 940 728"/>
<path class="p" d="M651 400A900 900 0 0 1 940 728"/>
<path class="p" d="M517 420A900 900 0 0 1 940 728"/>
<path class="p" d="M783 503A900 900 0 0 1 940 728"/>
<path class="p" d="M826 163A900 900 0 0 1 940 728"/>
<path class="p" d="M508 163A900 900 0 0 1 940 728"/>
<path class="p" d="M565 227A900 900 0 0 1 940 728"/>
<path class="p" d="M484 243A900 900 0 0 1 940 728"/>
<path class="p" d="M547 295A900 900 0 0 1 940 728"/>
<path class="p" d="M859 473A900 900 0 0 1 940 728"/>
<path class="p" d="M943 437A900 900 0 0 1 940 728"/>
<path class="p" d="M1014 437A900 900 0 0 1 940 728"/>
<path class="p" d="M1074 494A900 900 0 0 1 940 728"/>
<path class="p" d="M600 700A900 900 0 0 1 517 420"/>
<path class="p" d="M600 700A900 900 0 0 1 651 400"/>
<path class="p" d="M600 700A900 900 0 0 1 508 163"/>
<path class="p" d="M541 1032A900 900 0 0 1 600 700"/>
<path class="p" d="M199 1010A900 900 0 0 1 600 700"/>
<path class="p" d="M313 988A900 900 0 0 1 600 700"/>
<path class="p" d="M1455 1050A900 900 0 0 1 1281 1210"/>
<path class="p" d="M1250 725A900 900 0 0 1 1455 1050"/>
<path class="p" d="M1281 1210A900 900 0 0 1 541 1032"/>
<path class="p" d="M1281 1210A900 900 0 0 1 199 1010"/>
<path class="p" d="M1450 443A900 900 0 0 1 1455 1050"/>
<path class="p" d="M1455 1050A900 900 0 0 1 1139 1012"/>
<path class="p" d="M826 163A900 900 0 0 1 950 355"/>
<path class="p" d="M826 163A900 900 0 0 1 873 75"/>
<path class="p" d="M651 400A900 900 0 0 1 517 420"/>
<path class="p" d="M508 163A900 900 0 0 1 1268 154"/>
<path class="c" d="M554 1305A900 900 0 0 1 522 1128"/>
<path class="c" d="M554 1305A900 900 0 0 1 587 1187"/>
<path class="c" d="M654 1266A900 900 0 0 1 554 1305"/>
<path class="c" d="M554 1305A900 900 0 0 1 430 1157"/>
<path class="c" d="M554 1305A900 900 0 0 1 360 1075"/>
<path class="c" d="M676 1172A900 900 0 0 1 554 1305"/>
<path class="c" d="M787 778A900 900 0 0 1 554 1305"/>
<path class="c" d="M554 1305A900 900 0 0 1 480 1235"/>
<path class="c" d="M950 355A900 900 0 0 1 1093 410"/>
<path class="c" d="M1055 283A900 900 0 0 1 1093 410"/>
<path class="c" d="M787 778A900 900 0 0 1 1093 410"/>
<path class="c" d="M777 590A900 900 0 0 1 1093 410"/>
<path class="c" d="M1093 410A900 900 0 0 1 850 835"/>
<path class="c" d="M1055 283A900 900 0 0 1 950 355"/>
</g>
<g id="nodes">
<g id="n-r1"><circle class="nr" cx="1014" cy="80" r="18"/></g>
<g id="n-r2"><circle class="nr" cx="1134" cy="64" r="11"/></g>
<g id="n-r3"><circle class="nr" cx="944" cy="154" r="11"/></g>
<g id="n-r4"><circle class="nr" cx="1037" cy="353" r="20"/></g>
<g id="n-r5"><circle class="nr" cx="1240" cy="342" r="11"/></g>
<g id="n-r6"><circle class="nr" cx="1173" cy="428" r="20"/></g>
<g id="n-r7"><circle class="nr" cx="1255" cy="430" r="22"/></g>
<g id="n-r8"><circle class="nr" cx="1342" cy="505" r="10"/></g>
<g id="n-r9"><circle class="nr" cx="1406" cy="538" r="11"/></g>
<g id="n-r10"><circle class="nr" cx="1105" cy="566" r="11"/></g>
<g id="n-r11"><circle class="nr" cx="1268" cy="598" r="11"/></g>
<g id="n-r12"><circle class="nr" cx="1342" cy="590" r="16"/></g>
<g id="n-r13"><circle class="nr" cx="828" cy="640" r="22"/></g>
<g id="n-r14"><circle class="nr" cx="1133" cy="640" r="12"/></g>
<g id="n-r15"><circle class="nr" cx="1520" cy="668" r="11"/></g>
<g id="n-r16"><circle class="nr" cx="882" cy="688" r="14"/></g>
<g id="n-r17"><circle class="nr" cx="1100" cy="716" r="12"/></g>
<g id="n-r18"><circle class="nr" cx="862" cy="760" r="16"/></g>
<g id="n-r19"><circle class="nr" cx="1003" cy="781" r="20"/></g>
<g id="n-r20"><circle class="nr" cx="1072" cy="784" r="13"/></g>
<g id="n-r21"><circle class="nr" cx="1151" cy="785" r="26"/></g>
<g id="n-r22"><circle class="nr" cx="1316" cy="776" r="15"/></g>
<g id="n-r23"><circle class="nr" cx="1228" cy="800" r="14"/></g>
<g id="n-r24"><circle class="nr" cx="1099" cy="845" r="12"/></g>
<g id="n-r25"><circle class="nr" cx="1066" cy="910" r="16"/></g>
<g id="n-r26"><circle class="nr" cx="1218" cy="927" r="16"/></g>
<g id="n-r27"><circle class="nr" cx="1292" cy="940" r="13"/></g>
<g id="n-r28"><circle class="nr" cx="456" cy="1060" r="16"/></g>
<g id="n-r29"><circle class="nr" cx="262" cy="1113" r="17"/></g>
<g id="n-r30"><circle class="nr" cx="522" cy="1128" r="21"/></g>
<g id="n-r31"><circle class="nr" cx="1360" cy="1111" r="11"/></g>
<g id="n-r32"><circle class="nr" cx="430" cy="1157" r="15"/></g>
<g id="n-r33"><circle class="nr" cx="676" cy="1172" r="16"/></g>
<g id="n-r34"><circle class="nr" cx="808" cy="1193" r="13"/></g>
<g id="n-r35"><circle class="nr" cx="480" cy="1235" r="12"/></g>
<g id="n-r36"><circle class="nr" cx="742" cy="1246" r="12"/></g>
<g id="n-b1"><circle class="nb" cx="1268" cy="154" r="14"/></g>
<g id="n-b2"><circle class="nb" cx="1219" cy="246" r="26"/></g>
<g id="n-b3"><circle class="nb" cx="402" cy="411" r="12"/></g>
<g id="n-b4"><circle class="nb" cx="793" cy="423" r="18"/></g>
<g id="n-b5"><circle class="nb" cx="449" cy="459" r="12"/></g>
<g id="n-b6"><circle class="nb" cx="415" cy="508" r="14"/></g>
<g id="n-b7"><circle class="nb" cx="489" cy="515" r="17"/></g>
<g id="n-b8"><circle class="nb" cx="641" cy="549" r="11"/></g>
<g id="n-b9"><circle class="nb" cx="690" cy="603" r="20"/></g>
<g id="n-b10"><circle class="nb" cx="624" cy="620" r="11"/></g>
<g id="n-b11"><circle class="nb" cx="893" cy="607" r="12"/></g>
<g id="n-b12"><circle class="nb" cx="273" cy="722" r="22"/></g>
<g id="n-b13"><circle class="nb" cx="493" cy="806" r="18"/></g>
<g id="n-b14"><circle class="nb" cx="1010" cy="857" r="18"/></g>
<g id="n-b15"><circle class="nb" cx="928" cy="880" r="31"/></g>
<g id="n-b16"><circle class="nb" cx="789" cy="1055" r="13"/></g>
<g id="n-b17"><circle class="nb" cx="930" cy="1083" r="18"/></g>
<g id="n-b18"><circle class="nb" cx="1222" cy="1030" r="12"/></g>
<g id="n-b19"><circle class="nb" cx="1178" cy="1136" r="13"/></g>
<g id="n-g1"><circle class="ng" cx="204" cy="370" r="11"/></g>
<g id="n-g2"><circle class="ng" cx="241" cy="453" r="15"/></g>
<g id="n-g3"><circle class="ng" cx="843" cy="558" r="12"/></g>
<g id="n-g4"><circle class="ng" cx="547" cy="635" r="30"/></g>
<g id="n-g5"><circle class="ng" cx="229" cy="636" r="19"/></g>
<g id="n-g6"><circle class="ng" cx="1052" cy="648" r="11"/></g>
<g id="n-g7"><circle class="ng" cx="402" cy="667" r="15"/></g>
<g id="n-g8"><circle class="ng" cx="478" cy="670" r="18"/></g>
<g id="n-g9"><circle class="ng" cx="367" cy="736" r="13"/></g>
<g id="n-g10"><circle class="ng" cx="442" cy="743" r="15"/></g>
<g id="n-g11"><circle class="ng" cx="725" cy="735" r="11"/></g>
<g id="n-g12"><circle class="ng" cx="655" cy="766" r="12"/></g>
<g id="n-g13"><circle class="ng" cx="575" cy="781" r="24"/></g>
<g id="n-g14"><circle class="ng" cx="1493" cy="765" r="12"/></g>
<g id="n-g15"><circle class="ng" cx="566" cy="857" r="12"/></g>
<g id="n-g16"><circle class="ng" cx="262" cy="895" r="14"/></g>
<g id="n-g17"><circle class="ng" cx="506" cy="885" r="15"/></g>
<g id="n-g18"><circle class="ng" cx="557" cy="944" r="12"/></g>
<g id="n-g19"><circle class="ng" cx="745" cy="940" r="13"/></g>
<g id="n-g20"><circle class="ng" cx="958" cy="1017" r="11"/></g>
<g id="n-g21"><circle class="ng" cx="1013" cy="1080" r="17"/></g>
<g id="n-g22"><circle class="ng" cx="1099" cy="1083" r="12"/></g>
<g id="n-g23"><circle class="ng" cx="751" cy="1124" r="15"/></g>
<g id="n-g24"><circle class="ng" cx="985" cy="1170" r="15"/></g>
<g id="n-g25"><circle class="ng" cx="941" cy="1262" r="16"/></g>
<g id="n-g26"><circle class="ng" cx="1450" cy="443" r="22"/></g>
<g id="n-y1"><circle class="ny" cx="740" cy="107" r="16"/></g>
<g id="n-y2"><circle class="ny" cx="1142" cy="158" r="18"/></g>
<g id="n-y3"><circle class="ny" cx="888" cy="222" r="16"/></g>
<g id="n-y4"><circle class="ny" cx="740" cy="203" r="15"/></g>
<g id="n-y5"><circle class="ny" cx="660" cy="229" r="15"/></g>
<g id="n-y6"><circle class="ny" cx="968" cy="270" r="11"/></g>
<g id="n-y7"><circle class="ny" cx="391" cy="308" r="11"/></g>
<g id="n-y8"><circle class="ny" cx="722" cy="297" r="17"/></g>
<g id="n-y9"><circle class="ny" cx="874" cy="303" r="24"/></g>
<g id="n-y10"><circle class="ny" cx="640" cy="307" r="13"/></g>
<g id="n-y11"><circle class="ny" cx="805" cy="342" r="38"/></g>
<g id="n-y12"><circle class="ny" cx="1140" cy="342" r="24"/></g>
<g id="n-y13"><circle class="ny" cx="655" cy="485" r="14"/></g>
<g id="n-y14"><circle class="ny" cx="957" cy="577" r="14"/></g>
<g id="n-y15"><circle class="ny" cx="1313" cy="671" r="13"/></g>
<g id="n-y16"><circle class="ny" cx="410" cy="820" r="13"/></g>
<g id="n-y17"><circle class="ny" cx="636" cy="835" r="22"/></g>
<g id="n-y18"><circle class="ny" cx="432" cy="897" r="12"/></g>
<g id="n-y19"><circle class="ny" cx="675" cy="958" r="13"/></g>
<g id="n-y20"><circle class="ny" cx="864" cy="1033" r="12"/></g>
<g id="n-y21"><circle class="ny" cx="845" cy="1113" r="13"/></g>
<g id="n-y22"><circle class="ny" cx="622" cy="1008" r="32"/></g>
<g id="n-p1"><circle class="np" cx="508" cy="163" r="12"/></g>
<g id="n-p2"><circle class="np" cx="826" cy="163" r="18"/></g>
<g id="n-p3"><circle class="np" cx="565" cy="227" r="13"/></g>
<g id="n-p4"><circle class="np" cx="484" cy="243" r="12"/></g>
<g id="n-p5"><circle class="np" cx="547" cy="295" r="12"/></g>
<g id="n-p6"><circle class="np" cx="651" cy="400" r="21"/></g>
<g id="n-p7"><circle class="np" cx="943" cy="437" r="13"/></g>
<g id="n-p8"><circle class="np" cx="1014" cy="437" r="15"/></g>
<g id="n-p9"><circle class="np" cx="859" cy="473" r="14"/></g>
<g id="n-p10"><circle class="np" cx="1074" cy="494" r="15"/></g>
<g id="n-p11"><circle class="np" cx="783" cy="503" r="22"/></g>
<g id="n-p12"><circle class="np" cx="803" cy="710" r="12"/></g>
<g id="n-p13"><circle class="np" cx="1250" cy="725" r="24"/></g>
<g id="n-p14"><circle class="np" cx="932" cy="808" r="12"/></g>
<g id="n-p15"><circle class="np" cx="777" cy="867" r="12"/></g>
<g id="n-p16"><circle class="np" cx="199" cy="1010" r="11"/></g>
<g id="n-p17"><circle class="np" cx="541" cy="1032" r="18"/></g>
<g id="n-p18"><circle class="np" cx="1455" cy="1050" r="17"/></g>
<g id="n-p19"><circle class="np" cx="1281" cy="1210" r="13"/></g>
<g id="n-c1"><circle class="nc" cx="787" cy="778" r="12"/></g>
<g id="n-c2"><circle class="nc" cx="554" cy="1305" r="17"/></g>
<g id="n-gene"><circle class="nr" cx="848" cy="912" r="9"/><text x="850" y="918" font-size="28" textLength="76" lengthAdjust="spacingAndGlyphs">Gene</text></g>
<g id="n-amh"><circle class="nb" cx="908" cy="966" r="9"/><text x="909" y="968" font-size="28" textLength="72" lengthAdjust="spacingAndGlyphs">AMH</text></g>
<g id="n-model"><circle class="nr" cx="1217" cy="652" r="8"/><text x="1218" y="661" font-size="28" textLength="88" lengthAdjust="spacingAndGlyphs">Model</text></g>
<g id="n-bmi"><circle class="np" cx="605" cy="146" r="8"/><text x="605" y="157" font-size="26" textLength="58" lengthAdjust="spacingAndGlyphs">BMI</text></g>
<g id="n-followup"><circle class="ng" cx="325" cy="652" r="9"/><text x="323" y="657" font-size="28" textLength="145" lengthAdjust="spacingAndGlyphs">Follow Up</text></g>
<g id="n-homeostasis"><circle class="nr" cx="727" cy="376" r="10"/><text x="728" y="386" font-size="28" textLength="191" lengthAdjust="spacingAndGlyphs">Homeostasis</text></g>
<g id="n-index"><circle class="ng" cx="122" cy="462" r="10"/><text x="122" y="473" font-size="27" textLength="81" lengthAdjust="spacingAndGlyphs">Index</text></g>
<g id="n-tnfalpha"><circle class="nr" cx="1488" cy="563" r="10"/><text x="1487" y="572" font-size="30" textLength="150" lengthAdjust="spacingAndGlyphs">TNF Alpha</text></g>
<g id="n-growth"><circle class="nr" cx="931" cy="1365" r="10"/><text x="932" y="1380" font-size="30" textLength="110" lengthAdjust="spacingAndGlyphs">Growth</text></g>
<g id="n-cancer"><circle class="nr" cx="350" cy="893" r="11"/><text x="350" y="903" font-size="28" textLength="102" lengthAdjust="spacingAndGlyphs">Cancer</text></g>
<g id="n-profile"><circle class="nr" cx="1455" cy="873" r="11"/><text x="1455" y="883" font-size="30" textLength="95" lengthAdjust="spacingAndGlyphs">Profile</text></g>
<g id="n-homocysteine"><circle class="ny" cx="1403" cy="962" r="11"/><text x="1403" y="974" font-size="30" textLength="212" lengthAdjust="spacingAndGlyphs">Homocysteine</text></g>
<g id="n-hypertension"><circle class="ng" cx="385" cy="592" r="11"/><text x="385" y="600" font-size="28" textLength="200" lengthAdjust="spacingAndGlyphs">Hypertension</text></g>
<g id="n-invitro"><circle class="nr" cx="1140" cy="927" r="12"/><text x="1140" y="937" font-size="30" textLength="114" lengthAdjust="spacingAndGlyphs">In Vitro</text></g>
<g id="n-epidemiology"><circle class="nb" cx="1269" cy="1106" r="12"/><text x="1267" y="1119" font-size="30" textLength="200" lengthAdjust="spacingAndGlyphs">Epidemiology</text></g>
<g id="n-type2diabetes"><circle class="ng" cx="1130" cy="1258" r="12"/><text x="1130" y="1267" font-size="30" textLength="235" lengthAdjust="spacingAndGlyphs">Type 2 Diabetes</text></g>
<g id="n-exercise"><circle class="ny" cx="718" cy="1016" r="12"/><text x="718" y="1020" font-size="30" textLength="127" lengthAdjust="spacingAndGlyphs">Exercise</text></g>
<g id="n-cardiometabolicrisk"><circle class="ng" cx="620" cy="912" r="12"/><text x="621" y="922" font-size="30" textLength="312" lengthAdjust="spacingAndGlyphs">Cardiometabolic Risk</text></g>
<g id="n-biomarkers"><circle class="nc" cx="1055" cy="283" r="14"/><text x="1056" y="290" font-size="28" textLength="171" lengthAdjust="spacingAndGlyphs">Biomarkers</text></g>
<g id="n-follicularfluid"><circle class="nr" cx="1250" cy="515" r="14"/><text x="1250" y="525" font-size="30" textLength="226" lengthAdjust="spacingAndGlyphs">Follicular Fluid</text></g>
<g id="n-dyslipidemia"><circle class="ny" cx="322" cy="805" r="14"/><text x="314" y="815" font-size="30" textLength="200" lengthAdjust="spacingAndGlyphs">Dyslipidemia</text></g>
<g id="n-lifestyle"><circle class="ny" cx="587" cy="1187" r="14"/><text x="585" y="1196" font-size="32" textLength="344" lengthAdjust="spacingAndGlyphs">Life Style Modification</text></g>
<g id="n-cells"><circle class="nr" cx="1176" cy="705" r="16"/><text x="1176" y="720" font-size="30" textLength="73" lengthAdjust="spacingAndGlyphs">Cells</text></g>
<g id="n-features"><circle class="nb" cx="1139" cy="1012" r="16"/><text x="1139" y="1021" font-size="30" textLength="135" lengthAdjust="spacingAndGlyphs">Features</text></g>
<g id="n-pathogenesis"><circle class="nr" cx="1404" cy="800" r="17"/><text x="1404" y="810" font-size="30" textLength="207" lengthAdjust="spacingAndGlyphs">Pathogenesis</text></g>
<g id="n-hirsutism"><circle class="nb" cx="1312" cy="1030" r="17"/><text x="1312" y="1036" font-size="32" textLength="150" lengthAdjust="spacingAndGlyphs">Hirsutism</text></g>
<g id="n-obese"><circle class="nc" cx="1093" cy="410" r="18"/><text x="1093" y="418" font-size="30" textLength="105" lengthAdjust="spacingAndGlyphs">Obese</text></g>
<g id="n-hbg"><circle class="ng" cx="283" cy="280" r="18"/><text x="284" y="290" font-size="32" textLength="442" lengthAdjust="spacingAndGlyphs">Hormone Binding Globulin</text></g>
<g id="n-riskfactors"><circle class="ng" cx="313" cy="388" r="18"/><text x="313" y="396" font-size="30" textLength="194" lengthAdjust="spacingAndGlyphs">Risk Factors</text></g>
<g id="n-disease"><circle class="ng" cx="331" cy="492" r="18"/><text x="331" y="500" font-size="34" textLength="134" lengthAdjust="spacingAndGlyphs">Disease</text></g>
<g id="n-management"><circle class="ny" cx="913" cy="508" r="17"/><text x="915" y="525" font-size="32" textLength="218" lengthAdjust="spacingAndGlyphs">Management</text></g>
<g id="n-receptor"><circle class="nr" cx="1188" cy="575" r="20"/><text x="1188" y="586" font-size="30" textLength="147" lengthAdjust="spacingAndGlyphs">Receptor</text></g>
<g id="n-proliferation"><circle class="nr" cx="1173" cy="860" r="20"/><text x="1256" y="877" font-size="30" textLength="185" lengthAdjust="spacingAndGlyphs">Proliferation</text></g>
<g id="n-fattyliver"><circle class="ng" cx="684" cy="1083" r="20"/><text x="684" y="1094" font-size="32" textLength="303" lengthAdjust="spacingAndGlyphs">Fatty Liver Disease</text></g>
<g id="n-skeletalmuscle"><circle class="nr" cx="654" cy="1266" r="20"/><text x="654" y="1276" font-size="32" textLength="252" lengthAdjust="spacingAndGlyphs">Skeletal Muscle</text></g>
<g id="n-insulin"><circle class="np" cx="517" cy="420" r="22"/><text x="517" y="430" font-size="34" textLength="117" lengthAdjust="spacingAndGlyphs">Insulin</text></g>
<g id="n-health"><circle class="nb" cx="181" cy="549" r="24"/><text x="180" y="562" font-size="32" textLength="114" lengthAdjust="spacingAndGlyphs">Health</text></g>
<g id="n-overweight"><circle class="ny" cx="720" cy="458" r="24"/><text x="720" y="468" font-size="34" textLength="200" lengthAdjust="spacingAndGlyphs">Overweight</text></g>
<g id="n-diagnosticcriteria"><circle class="np" cx="600" cy="700" r="24"/><text x="601" y="710" font-size="34" textLength="318" lengthAdjust="spacingAndGlyphs">Diagnostic Criteria</text></g>
<g id="n-doubleblind"><circle class="ny" cx="800" cy="262" r="25"/><text x="800" y="271" font-size="34" textLength="232" lengthAdjust="spacingAndGlyphs">Double Blind</text></g>
<g id="n-youngwomen"><circle class="ng" cx="1070" cy="1162" r="25"/><text x="1070" y="1175" font-size="36" textLength="255" lengthAdjust="spacingAndGlyphs">Young Women</text></g>
<g id="n-adiposetissue"><circle class="nr" cx="1348" cy="405" r="30"/><text x="1348" y="416" font-size="36" textLength="283" lengthAdjust="spacingAndGlyphs">Adipose Tissue</text></g>
<g id="n-sensitivity"><circle class="nr" cx="965" cy="655" r="30"/><text x="965" y="665" font-size="36" textLength="183" lengthAdjust="spacingAndGlyphs">Sensitivity</text></g>
<g id="n-testosterone"><circle class="nb" cx="170" cy="900" r="30"/><text x="170" y="913" font-size="38" textLength="240" lengthAdjust="spacingAndGlyphs">Testosterone</text></g>
<g id="n-glucose"><circle class="nr" cx="1333" cy="293" r="33"/><text x="1333" y="305" font-size="36" textLength="150" lengthAdjust="spacingAndGlyphs">Glucose</text></g>
<g id="n-association"><circle class="nb" cx="115" cy="638" r="33"/><text x="113" y="651" font-size="38" textLength="215" lengthAdjust="spacingAndGlyphs">Association</text></g>
<g id="n-expression"><circle class="nr" cx="1390" cy="720" r="35"/><text x="1390" y="732" font-size="38" textLength="213" lengthAdjust="spacingAndGlyphs">Expression</text></g>
<g id="n-inflammation"><circle class="nr" cx="360" cy="1075" r="35"/><text x="360" y="1089" font-size="42" textLength="265" lengthAdjust="spacingAndGlyphs">Inflammation</text></g>
<g id="n-syndromepcos"><circle class="nb" cx="385" cy="198" r="37"/><text x="386" y="210" font-size="38" textLength="319" lengthAdjust="spacingAndGlyphs">Syndrome Pcos</text></g>
<g id="n-hyperandrogenism"><circle class="nb" cx="1035" cy="188" r="40"/><text x="1036" y="200" font-size="38" textLength="397" lengthAdjust="spacingAndGlyphs">Hyperandrogenism</text></g>
<g id="n-metformin"><circle class="np" cx="940" cy="728" r="40"/><text x="939" y="743" font-size="42" textLength="226" lengthAdjust="spacingAndGlyphs">Metformin</text></g>
<g id="n-prevalence"><circle class="nb" cx="180" cy="727" r="47"/><text x="180" y="738" font-size="50" textLength="249" lengthAdjust="spacingAndGlyphs">Prevalence</text></g>
<g id="n-metabolicsyndrome"><circle class="ng" cx="313" cy="988" r="53"/><text x="310" y="1002" font-size="50" textLength="476" lengthAdjust="spacingAndGlyphs">Metabolic Syndrome</text></g>
<g id="n-obesity"><circle class="ng" cx="777" cy="590" r="57"/><text x="777" y="608" font-size="52" textLength="189" lengthAdjust="spacingAndGlyphs">Obesity</text></g>
<g id="n-insulinresistance"><circle class="nr" cx="850" cy="835" r="57"/><text x="853" y="848" font-size="50" textLength="443" lengthAdjust="spacingAndGlyphs">Insulin Resistance</text></g>
<g id="n-women"><circle class="nr" cx="873" cy="75" r="62"/><text x="873" y="88" font-size="58" textLength="204" lengthAdjust="spacingAndGlyphs">Women</text></g>
<g id="n-pcos"><circle class="nb" cx="950" cy="355" r="75"/><text x="950" y="376" font-size="64" textLength="156" lengthAdjust="spacingAndGlyphs">PCOS</text></g>
</g>
</g>
</svg>
